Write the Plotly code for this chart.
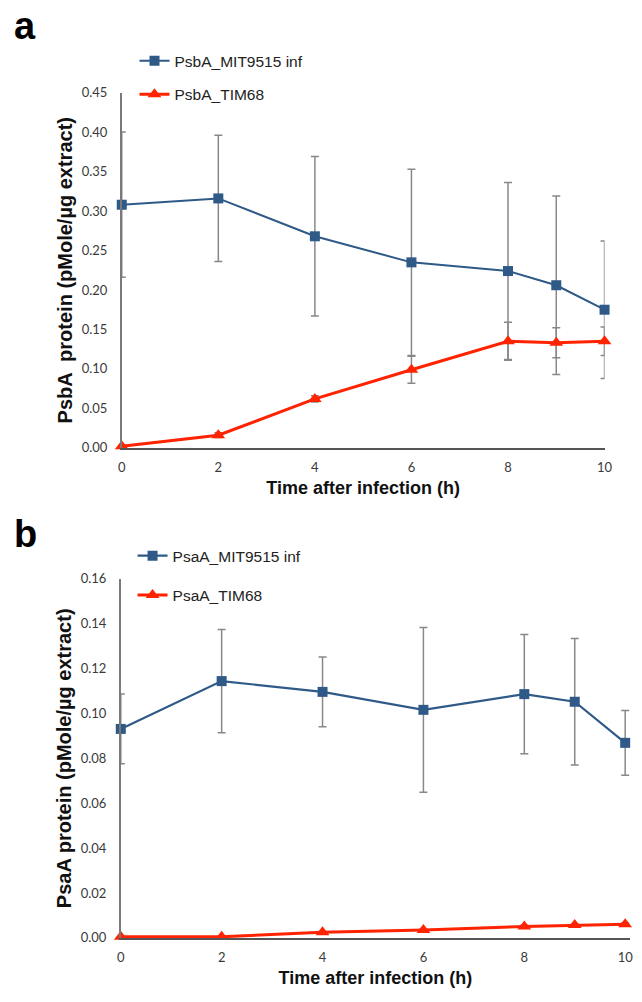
import plotly.graph_objects as go

# ---------------- data ----------------
time_h = [0, 2, 4, 6, 8, 9, 10]

# panel a: PsbA
psba_mit = [0.308, 0.316, 0.268, 0.235, 0.224, 0.206, 0.175]
psba_mit_err = [0.092, 0.080, 0.101, 0.118, 0.112, 0.113, 0.087]
psba_tim = [0.002, 0.016, 0.062, 0.099, 0.135, 0.133, 0.135]
psba_tim_err = [0.001, 0.003, 0.004, 0.017, 0.024, 0.019, 0.018]

# panel b: PsaA
psaa_mit = [0.0931, 0.1144, 0.1096, 0.1016, 0.1086, 0.1052, 0.0869]
psaa_mit_err = [0.0155, 0.0230, 0.0155, 0.0367, 0.0266, 0.0282, 0.0144]
psaa_tim = [0.0005, 0.0005, 0.0025, 0.0035, 0.0051, 0.0057, 0.0061]
psaa_tim_err = [0.0003, 0.0003, 0.0004, 0.0004, 0.0005, 0.0005, 0.0005]

x_ticks = [0, 2, 4, 6, 8, 10]

names = ["PsbA_MIT9515 inf", "PsbA_TIM68", "PsaA_MIT9515 inf", "PsaA_TIM68"]

# ---------------- style ----------------
W, H = 642, 1002
BLUE = "#2f5a88"
RED = "#ff2300"
ERR = "#888888"
TITLE_FONT = "Liberation Sans, Arial, sans-serif"
TICK_FONT = dict(family="Lato, sans-serif", size=13, color="#3a3a3a")


def px_x(p):
    return p / W


def px_y(p):
    return 1 - p / H


fig = go.Figure()

def add(x, y, err, name, color, symbol, msize, lw, xa, ya, legend):
    fig.add_trace(go.Scatter(
        x=x, y=y, name=name, mode="lines+markers",
        line=dict(color=color, width=lw),
        marker=dict(color=color, symbol=symbol, size=msize, line=dict(width=0)),
        error_y=dict(type="data", array=err, visible=True, color=ERR, thickness=1.5, width=4),
        xaxis=xa, yaxis=ya, legend=legend, cliponaxis=False,
    ))

add(time_h, psba_mit, psba_mit_err, names[0], BLUE, "square", 10, 2, "x", "y", "legend")
add(time_h, psba_tim, psba_tim_err, names[1], RED, "triangle-up", 12, 3, "x", "y", "legend2")
add(time_h, psaa_mit, psaa_mit_err, names[2], BLUE, "square", 10, 2.2, "x2", "y2", "legend3")
add(time_h, psaa_tim, psaa_tim_err, names[3], RED, "triangle-up", 12, 3, "x2", "y2", "legend4")

xcommon = dict(
    tickvals=x_ticks, showgrid=False, zeroline=False, showline=True,
    linecolor="#555555", linewidth=1.5, ticks="outside", ticklen=7,
    tickcolor="rgba(0,0,0,0)", tickfont=TICK_FONT,
)
ycommon = dict(
    showgrid=False, zeroline=False, showline=True, linecolor="#7a7a7a",
    linewidth=1.5, ticks="outside", ticklen=10, tickcolor="rgba(0,0,0,0)",
    tickfont=TICK_FONT, tickformat=".2f",
)
xtitle = dict(text="<b>Time after infection (h)</b>",
              font=dict(family=TITLE_FONT, size=18, color="#111111"), standoff=7)


def leg(x, y):
    return dict(x=px_x(x), y=px_y(y), xanchor="left", yanchor="middle",
                bgcolor="rgba(0,0,0,0)", borderwidth=0,
                font=dict(family=TITLE_FONT, size=15.5, color="#222222"))


fig.update_layout(
    width=W, height=H, margin=dict(l=0, r=0, t=0, b=0),
    paper_bgcolor="white", plot_bgcolor="white", showlegend=True,
    xaxis=dict(domain=[px_x(120), px_x(612)], range=[0, 10], anchor="y",
               title=xtitle, **xcommon),
    yaxis=dict(domain=[px_y(447), px_y(86)], range=[0, 0.45], dtick=0.05, anchor="x",
               title=dict(text="<b>PsbA  protein (pMole/µg extract)</b>",
                          font=dict(family=TITLE_FONT, size=20, color="#111111"), standoff=4),
               **ycommon),
    xaxis2=dict(domain=[px_x(119), px_x(638)], range=[0, 10.097], anchor="y2",
                title=xtitle, **xcommon),
    yaxis2=dict(domain=[px_y(945), px_y(580)], range=[0, 0.16], dtick=0.02, anchor="x2",
                title=dict(text="<b>PsaA protein (pMole/µg extract)</b>",
                           font=dict(family=TITLE_FONT, size=20, color="#111111"), standoff=4),
                **ycommon),
    legend=leg(133, 54),
    legend2=leg(133, 88),
    legend3=leg(131, 557),
    legend4=leg(131, 597),
    annotations=[
        dict(text="<b>a</b>", x=px_x(8), y=px_y(18), xref="paper", yref="paper",
             xanchor="left", yanchor="middle", showarrow=False,
             font=dict(family=TITLE_FONT, size=38, color="#000000")),
        dict(text="<b>b</b>", x=px_x(8), y=px_y(535), xref="paper", yref="paper",
             xanchor="left", yanchor="middle", showarrow=False,
             font=dict(family=TITLE_FONT, size=38, color="#000000")),
    ],
)

fig.write_html("out.html")
